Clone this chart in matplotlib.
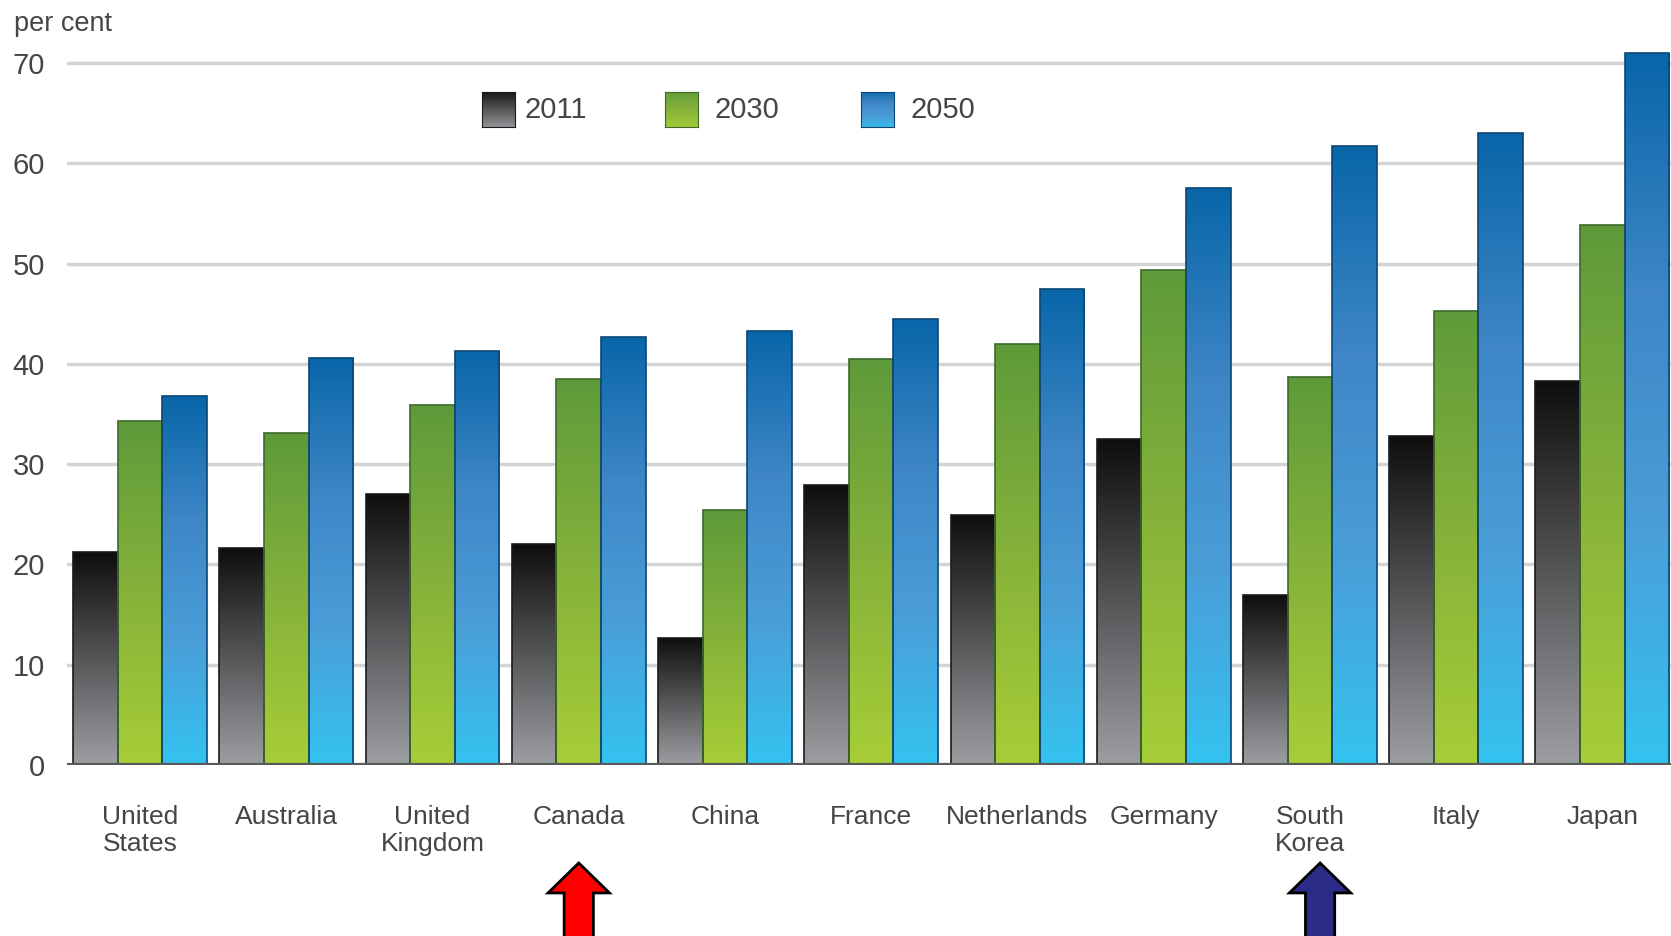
import numpy as np
import matplotlib
matplotlib.use("Agg")
import matplotlib.pyplot as plt
from matplotlib.colors import LinearSegmentedColormap
from matplotlib.patches import Polygon
from matplotlib.transforms import blended_transform_factory

plt.rcParams['font.family'] = ['Liberation Sans', 'DejaVu Sans']

# share of population aged 65+ relative to working age, per cent
countries = ['United\nStates', 'Australia', 'United\nKingdom', 'Canada', 'China',
             'France', 'Netherlands', 'Germany', 'South\nKorea', 'Italy', 'Japan']
years = ['2011', '2030', '2050']
v2011 = [21.2, 21.6, 27.0, 22.0, 12.7, 27.9, 24.9, 32.5, 17.0, 32.8, 38.3]
v2030 = [34.3, 33.1, 35.9, 38.5, 25.4, 40.5, 42.0, 49.4, 38.7, 45.3, 53.8]
v2050 = [36.8, 40.6, 41.3, 42.7, 43.3, 44.5, 47.5, 57.5, 61.7, 63.0, 71.0]
yticks = [0, 10, 20, 30, 40, 50, 60, 70]

# colour stops (bottom -> top) and edge colour for each series
grads = [(['#9c9ea1', '#555658', '#0e0e0e'], '#1a1a1a'),
         (['#a7ce37', '#86b23a', '#5e9a3b'], '#3d6a28'),
         (['#34c3f0', '#4a9ed8', '#3e86c6', '#0866a8'], '#0b4676')]

fig = plt.figure(figsize=(16.71, 9.36), dpi=100)
ax = fig.add_axes([0.0401, 0.1827, 0.9599, 0.7714])

x = np.arange(len(countries))
w = 0.305
series = [v2011, v2030, v2050]
grad = np.linspace(0, 1, 256).reshape(-1, 1)
for i, vals in enumerate(series):
    stops, edge = grads[i]
    cmap = LinearSegmentedColormap.from_list('g%d' % i, stops)
    bars = ax.bar(x + (i - 1) * w, vals, w, facecolor='none', edgecolor=edge,
                  linewidth=1.2, zorder=3)
    for b in bars:
        x0 = b.get_x()
        h = b.get_height()
        im = ax.imshow(grad, extent=(x0, x0 + w, 0, h), origin='lower',
                       aspect='auto', cmap=cmap, zorder=2, interpolation='bilinear')
        im.set_clip_path(b)

ax.set_xlim(-0.5, 10.47)
ax.set_ylim(0, 72)
ax.set_yticks(yticks)
ax.set_xticks(x)
ax.set_xticklabels(countries, linespacing=1.15)
ax.tick_params(axis='x', length=0, pad=29, labelsize=19, labelcolor='#454545')
ax.tick_params(axis='y', length=0, pad=16, labelsize=21, labelcolor='#454545')
for sp in ax.spines.values():
    sp.set_visible(False)
ax.set_axisbelow(True)
ax.yaxis.grid(True, color='#d4d4d4', linewidth=2.5)
ax.axhline(0, color='#5a5a5a', linewidth=3, zorder=5)

fig.text(14 / 1671, 1 - 24 / 936, 'per cent', fontsize=19.5, color='#454545', va='center')

# legend swatches with the same gradients
sw_x = [482, 665, 861]
lab_x = [524, 715, 910]
for i, yr in enumerate(years):
    stops, edge = grads[i]
    cmap = LinearSegmentedColormap.from_list('l%d' % i, stops)
    sax = fig.add_axes([sw_x[i] / 1671, 1 - 127 / 936, 33 / 1671, 35 / 936])
    sax.imshow(np.linspace(0, 1, 64).reshape(-1, 1), origin='lower', aspect='auto',
               cmap=cmap, vmin=-0.1, vmax=1.1)
    sax.set_xticks([])
    sax.set_yticks([])
    for sp in sax.spines.values():
        sp.set_color(edge)
    fig.text(lab_x[i] / 1671, 1 - 110 / 936, yr, fontsize=21, color='#454545', va='center')

# arrows pointing at Canada and South Korea
tr = blended_transform_factory(ax.transData, fig.transFigure)
for cx, col in [(3.0, '#ff0000'), (8.07, '#2b2b88')]:
    hw, sw = 0.21, 0.1
    pts = [(cx, 0.078), (cx + hw, 0.046), (cx + sw, 0.046), (cx + sw, -0.01),
           (cx - sw, -0.01), (cx - sw, 0.046), (cx - hw, 0.046)]
    ax.add_patch(Polygon(pts, closed=True, facecolor=col, edgecolor='black',
                         linewidth=2, transform=tr, clip_on=False, zorder=6))

fig.savefig('out.png', dpi=100)
